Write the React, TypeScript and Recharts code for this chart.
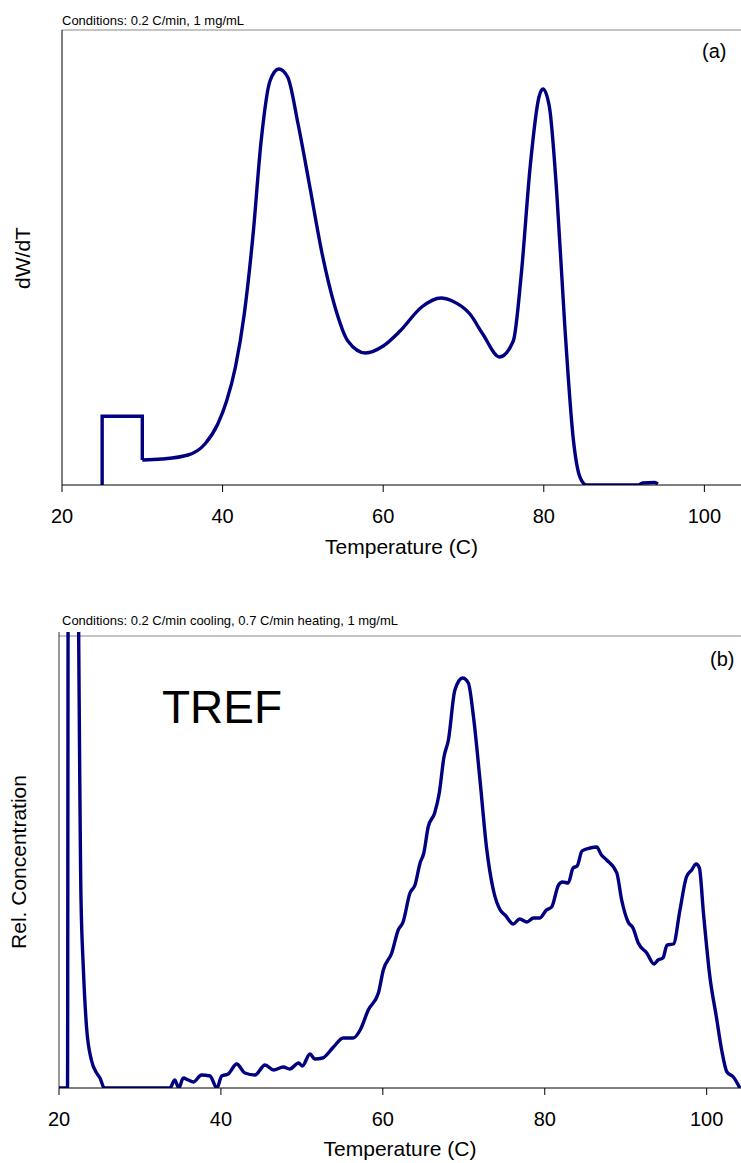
import { LineChart, Line, XAxis, YAxis, ReferenceLine } from "recharts";

const FONT = "'Liberation Sans', Arial, sans-serif";
const NAVY = "#000080";
const LINE_W = 3.4;
const TICKS = [20, 40, 60, 80, 100];

// (a) dW/dT, 0.2 C/min
const stepTempA = [25, 25, 30, 30];
const stepValA = [0, 68.7, 68.7, 25];
const tempA = [
  30, 32.4, 35.7, 37.8, 39.4, 40.5, 41.6, 42.7, 43.8, 44.8, 45.9, 47.0, 48.1, 49.4, 50.8, 52.4,
  54.0, 55.6, 57.8, 60.0, 62.1, 64.8, 67.2, 68.6, 70.8, 72.4, 74.5, 76.2, 77.2, 78.3, 79.4, 79.9,
  80.7, 81.6, 82.6, 83.7, 84.5, 85.3, 86, 91.8, 92.3, 93.8, 94.2,
];
const dwdtA = [
  25, 26, 30, 41, 61, 84, 118, 171, 251, 344, 404, 416, 408, 361, 301, 231,
  178, 144, 132, 139, 154, 178, 187, 184, 171, 151, 128, 144, 211, 318, 388, 396,
  378, 294, 161, 44, 8, 0, 0, 0, 2, 2.5, 1,
];

// (b) TREF, rel. concentration
const tempB = [
  20, 21.05, 21.15, 22.2, 22.72, 23.0, 23.4, 24.0, 24.65, 25.06, 25.6, 33.7, 34.3, 34.8, 35.35,
  35.97, 36.6, 37.6, 38.65, 39.5, 40.1, 40.9, 41.95, 42.97, 44.2, 45.45, 46.5, 47.7, 48.5, 49.6,
  50.05, 51.0, 51.6, 52.55, 53.9, 55.1, 56.35, 57.2, 58.2, 59.45, 60.06, 61.1, 61.9, 62.5, 63.35,
  63.97, 64.6, 65.06, 65.6, 66.4, 66.97, 67.55, 68.1, 68.9, 69.86, 70.56, 71.2, 72.0, 72.8, 73.65,
  74.5, 75.1, 76.1, 76.9, 77.8, 78.6, 79.4, 80.2, 80.85, 81.7, 82.2, 82.9, 83.5, 84.0, 84.6,
  85.6, 86.4, 87.0, 87.65, 88.9, 89.5, 90.3, 90.9, 91.55, 92.6, 93.5, 94.0, 94.6, 95.1, 95.9,
  96.7, 97.5, 98.15, 98.7, 99.1, 99.6, 100.4, 101.2, 101.85, 102.5, 103.3, 104.1,
];
const concB = [
  0, 0, 600, 600, 188, 121, 61, 28, 15, 10, 0, 0, 8, 0, 10,
  8, 6, 13, 12, 0, 12, 14, 24, 15, 13, 23, 18, 21, 19, 25,
  22, 34, 29, 30, 41, 50, 50, 58, 78, 95, 118, 135, 158, 166, 195,
  203, 225, 235, 261, 275, 295, 331, 348, 398, 410, 405, 371, 308, 241, 198,
  178, 173, 164, 169, 166, 170, 170, 178, 181, 203, 206, 205, 220, 222, 237,
  240, 241, 233, 228, 215, 188, 166, 160, 145, 135, 124, 128, 130, 143, 144,
  178, 211, 218, 224, 220, 175, 111, 71, 38, 16, 11, 0,
];

const stepA = stepTempA.map((t, i) => ({ t, v: stepValA[i] }));
const curveA = tempA.map((t, i) => ({ t, v: dwdtA[i] }));
const curveB = tempB.map((t, i) => ({ t, v: concB[i] }));

const tickStyle = { fill: "#000", fontSize: 20, fontFamily: FONT };
const axisLabel = (value: string) => ({
  value,
  position: "insideBottom" as const,
  offset: 0,
  fill: "#000",
  fontSize: 21,
  fontFamily: FONT,
});

function ChartA() {
  return (
    <LineChart width={741} height={600} margin={{ top: 30, right: 0, bottom: 46, left: 62 }}>
      <XAxis
        type="number"
        dataKey="t"
        domain={[20, 104.56]}
        ticks={TICKS}
        allowDataOverflow
        tickSize={7}
        tickMargin={17}
        tick={tickStyle}
        axisLine={{ stroke: "#000" }}
        tickLine={{ stroke: "#000" }}
        height={69}
        label={axisLabel("Temperature (C)")}
      />
      <YAxis type="number" domain={[0, 455]} hide allowDataOverflow />
      <ReferenceLine y={455} stroke="#888" />
      <ReferenceLine x={20} stroke="#000" />
      <Line data={stepA} dataKey="v" type="linear" stroke={NAVY} strokeWidth={LINE_W} dot={false} isAnimationActive={false} />
      <Line data={curveA} dataKey="v" type="monotone" stroke={NAVY} strokeWidth={LINE_W} dot={false} isAnimationActive={false} />
    </LineChart>
  );
}

function ChartB() {
  return (
    <LineChart width={741} height={563} margin={{ top: 32, right: 0, bottom: 7, left: 59 }}>
      <XAxis
        type="number"
        dataKey="t"
        domain={[20, 104.24]}
        ticks={TICKS}
        allowDataOverflow
        tickSize={7}
        tickMargin={17}
        tick={tickStyle}
        axisLine={{ stroke: "#000" }}
        tickLine={{ stroke: "#000" }}
        height={68}
        label={axisLabel("Temperature (C)")}
      />
      <YAxis type="number" domain={[0, 456]} hide allowDataOverflow />
      <ReferenceLine y={452} stroke="#888" />
      <ReferenceLine x={20} stroke="#333" />
      <Line data={curveB} dataKey="v" type="monotone" stroke={NAVY} strokeWidth={LINE_W} dot={false} isAnimationActive={false} />
    </LineChart>
  );
}

export default function App() {
  return (
    <div style={{ position: "absolute", left: 0, top: 0, width: 741, height: 1163, background: "#fff" }}>
      <div style={{ position: "absolute", left: 0, top: 0 }}>
        <ChartA />
      </div>
      <div style={{ position: "absolute", left: 0, top: 600 }}>
        <ChartB />
      </div>
      <svg
        width={741}
        height={1163}
        style={{ position: "absolute", left: 0, top: 0, pointerEvents: "none" }}
        fontFamily={FONT}
        fill="#000"
      >
        <text x={62} y={25} fontSize={13}>Conditions: 0.2 C/min, 1 mg/mL</text>
        <text x={702} y={57.7} fontSize={20}>(a)</text>
        <text transform="translate(29.5,258) rotate(-90)" textAnchor="middle" fontSize={21}>dW/dT</text>
        <text x={62} y={625} fontSize={13}>Conditions: 0.2 C/min cooling, 0.7 C/min heating, 1 mg/mL</text>
        <text x={710} y={665.7} fontSize={20}>(b)</text>
        <text x={162} y={723} fontSize={46}>TREF</text>
        <text transform="translate(25.5,862) rotate(-90)" textAnchor="middle" fontSize={21}>Rel. Concentration</text>
      </svg>
    </div>
  );
}
